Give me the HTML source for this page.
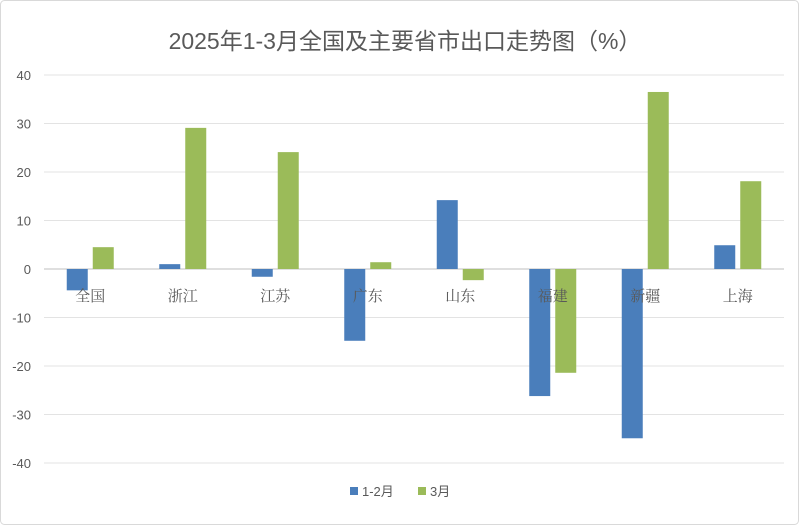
<!DOCTYPE html>
<html><head><meta charset="utf-8"><style>
html,body{margin:0;padding:0;background:#fff;}
svg{display:block;font-family:"Liberation Sans","Noto Sans CJK SC",sans-serif;}
</style></head><body>
<svg id="chart" width="799" height="525">
<rect x="0.5" y="0.5" width="798" height="524" rx="4" fill="#fff" stroke="#d9d9d9"/>
<text x="405" y="49" text-anchor="middle" font-size="23" fill="#595959">2025年1-3月全国及主要省市出口走势图（%）</text>
<g id="grid"></g><g id="bars"></g><g id="labels"></g>
<g>
<rect x="350" y="487" width="8" height="8" fill="#4a7ebb"/>
<text x="362" y="496" font-size="13" fill="#595959">1-2月</text>
<rect x="418" y="487" width="8" height="8" fill="#9bbb59"/>
<text x="430" y="496" font-size="13" fill="#595959">3月</text>
</g>
</svg>
<script>
const categories=["全国","浙江","江苏","广东","山东","福建","新疆","上海"];
const seriesJanFeb=[-4.4,1.0,-1.6,-14.8,14.2,-26.2,-34.9,4.9];
const seriesMar=[4.5,29.1,24.1,1.4,-2.3,-21.4,36.5,18.1];
const yTicks=[40,30,20,10,0,-10,-20,-30,-40];
const ns="http://www.w3.org/2000/svg";
const plotL=44,plotR=784,yTop=75,yBot=463,vMax=40,vMin=-40;
function y(v){return yTop+(vMax-v)/(vMax-vMin)*(yBot-yTop);}
const band=(plotR-plotL)/categories.length;
function xc(i){return plotL+band*(i+0.5);}
function mk(tag,attrs,parent){const e=document.createElementNS(ns,tag);for(const k in attrs)e.setAttribute(k,attrs[k]);document.getElementById(parent).appendChild(e);return e;}
yTicks.forEach(t=>{
 const l=mk("line",{x1:plotL,x2:plotR,y1:y(t),y2:y(t),stroke:t===0?"#bfbfbf":"#e3e3e3","stroke-width":1},"grid");
 
 
 const tx=mk("text",{x:31,y:y(t)+5,"text-anchor":"end","font-size":13,fill:"#595959"},"grid");
 tx.textContent=t;
 
 
});
const bw=21;
categories.forEach((c,i)=>{
 const a=seriesJanFeb[i],b=seriesMar[i];
 const r1=mk("rect",{x:xc(i)-bw-2.5,y:Math.min(y(a),y(0)),width:bw,height:Math.abs(y(a)-y(0)),fill:"#4a7ebb"},"bars");
 
 
 const r2=mk("rect",{x:xc(i)+2.5,y:Math.min(y(b),y(0)),width:bw,height:Math.abs(y(b)-y(0)),fill:"#9bbb59"},"bars");
 
 
 const t=mk("text",{x:xc(i),y:y(0)+32,"text-anchor":"middle","font-size":15,fill:"#595959","font-family":"Noto Serif CJK SC,serif"},"labels");
 t.textContent=c;
 
 
});
</script>
</body></html>
